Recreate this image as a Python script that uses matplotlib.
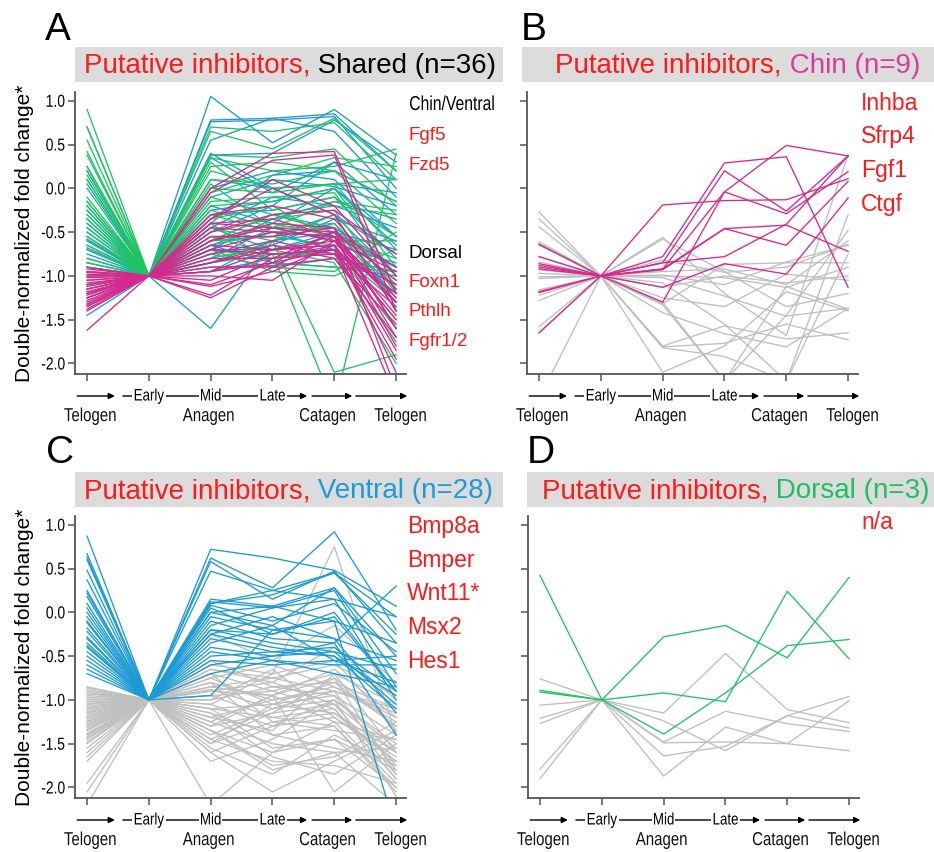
import matplotlib
matplotlib.use('Agg')
import matplotlib.pyplot as plt
import matplotlib.patches as patches
import matplotlib.transforms as mtransforms
import matplotlib.patheffects as patheffects

plt.rcParams['axes.unicode_minus'] = False

SANS = ['Liberation Sans', 'DejaVu Sans']

RED = '#ff1a1a'
PINK = '#d6288e'
BLUE = '#1c9ad6'
GREEN = '#1fc462'
GREY = '#bfbfbf'
TITLE_PINK = '#d63c9e'
TITLE_BLUE = '#1e9ad6'
TITLE_GREEN = '#1fbf5f'

# time points: Telogen, Early, Mid, Late, Catagen, Telogen
stage_x = [0, 1, 2, 3, 4, 5]
yticks = [1.0, 0.5, 0.0, -0.5, -1.0, -1.5, -2.0]
ytick_labels = ['1.0', '0.5', '0.0', '-0.5', '-1.0', '-1.5', '-2.0']

# ---- panel A: shared genes, one profile per region ----
A_ventral = [
    [-0.45, -1.0, 1.05, 0.52, 0.90, 0.38],
    [-0.30, -1.0, 0.78, 0.80, 0.85, 0.20],
    [-0.55, -1.0, 0.76, 0.78, 0.82, 0.00],
    [0.20, -1.0, 0.55, 0.80, 0.65, -0.10],
    [-0.60, -1.0, 0.38, 0.40, 0.78, 0.30],
    [-0.70, -1.0, 0.35, -0.05, 0.30, -0.30],
    [0.10, -1.0, 0.00, 0.20, 0.10, -0.55],
    [-0.80, -1.0, -0.10, 0.10, 0.02, -0.20],
    [-0.20, -1.0, -0.20, -0.40, 0.00, -0.65],
    [-0.90, -1.0, -0.30, -0.25, -0.10, -0.80],
    [-1.10, -1.0, -0.45, -0.10, -0.20, -0.45],
    [-0.50, -1.0, -0.55, -0.55, -0.30, -1.00],
    [-1.20, -1.0, -0.60, -0.30, -0.45, -0.90],
    [-0.35, -1.0, -0.70, -0.70, -0.50, -0.70],
    [-1.45, -1.0, -0.80, -0.45, -0.60, -1.20],
    [-0.65, -1.0, -0.85, -0.75, -0.75, -1.10],
    [-1.00, -1.0, -0.90, -0.88, -0.80, -0.95],
    [-0.75, -1.0, -1.60, -0.60, -0.40, -1.25],
    [0.25, -1.0, -0.50, -0.20, 0.30, 0.10],
    [-0.85, -1.0, -0.75, -0.65, -0.35, -0.60],
    [-1.25, -1.0, -0.40, 0.15, 0.20, -0.15],
    [-0.40, -1.0, -0.65, -0.50, -0.70, -1.30],
    [-0.95, -1.0, -0.70, -0.35, -0.15, -0.35],
    [-1.15, -1.0, -0.95, -0.80, -0.65, -0.85],
    [0.05, -1.0, 0.40, 0.00, 0.05, -0.05],
    [-0.25, -1.0, -0.25, -0.15, 0.00, -0.55],
    [-0.58, -1.0, -0.65, -0.85, -0.90, -1.00],
    [-1.35, -1.0, -0.85, -0.60, -0.50, -1.15],
    [-0.15, -1.0, 0.10, 0.00, -0.30, -0.75],
    [-0.68, -1.0, -0.45, -0.70, -0.55, -0.90],
]
A_dorsal = [
    [0.90, -1.0, 0.70, 0.65, 0.75, 0.10],
    [0.70, -1.0, 0.65, 0.45, 0.80, 0.20],
    [0.70, -1.0, 0.38, 0.35, 0.45, -0.20],
    [0.42, -1.0, 0.35, 0.20, 0.25, 0.45],
    [0.38, -1.0, 0.25, 0.30, 0.20, -0.40],
    [0.25, -1.0, 0.20, 0.00, 0.05, 0.10],
    [0.10, -1.0, 0.00, -0.05, 0.05, -0.70],
    [0.00, -1.0, -0.10, -0.30, -0.20, -0.30],
    [-0.10, -1.0, -0.20, -0.15, 0.00, -0.90],
    [-0.20, -1.0, -0.25, -0.45, -0.40, -1.10],
    [-0.30, -1.0, -0.35, -0.20, -0.60, -0.60],
    [-0.40, -1.0, -0.45, -0.60, -0.30, -1.40],
    [-0.50, -1.0, -0.55, -0.75, -2.50, 0.40],
    [-0.60, -1.0, -0.65, -0.40, -0.55, -0.80],
    [-0.70, -1.0, -0.70, -0.80, -0.70, -1.60],
    [-0.80, -1.0, -0.75, -0.90, -0.95, -0.50],
    [-0.90, -1.0, -0.85, -0.70, -0.85, -2.00],
    [-1.00, -1.0, -0.95, -0.60, -2.10, -1.90],
    [-1.10, -1.0, -0.50, -0.35, -0.25, -1.20],
    [0.55, -1.0, 0.10, 0.05, 0.20, -0.15],
    [-0.15, -1.0, -0.15, -0.10, -0.05, -1.00],
    [-0.65, -1.0, -0.30, -0.50, -0.45, -1.30],
    [0.20, -1.0, 0.30, -0.25, -0.10, -0.55],
    [-0.85, -1.0, -0.60, -0.55, -0.65, -1.50],
    [-0.45, -1.0, -0.40, -0.85, -0.90, -0.95],
    [-0.95, -1.0, -0.80, -0.65, -0.75, -1.75],
    [0.15, -1.0, -0.05, 0.15, 0.35, 0.25],
    [-0.25, -1.0, -0.70, -0.95, -1.00, -0.70],
    [-0.55, -1.0, 0.05, -0.45, -0.15, -0.25],
    [-0.35, -1.0, -0.60, -0.30, -0.50, -1.05],
]
A_chin = [
    [-0.95, -1.0, 0.00, 0.40, 0.42, -1.20],
    [-1.00, -1.0, -0.05, 0.32, 0.38, -1.40],
    [-1.05, -1.0, -0.35, 0.10, -0.20, -1.00],
    [-1.10, -1.0, -0.40, -0.45, -0.50, -1.60],
    [-1.15, -1.0, -0.45, -0.50, -0.55, -1.80],
    [-1.20, -1.0, -0.55, -0.55, -0.45, -2.30],
    [-1.25, -1.0, -0.60, -0.45, -0.60, -1.30],
    [-1.30, -1.0, -0.65, -0.70, -0.65, -1.50],
    [-1.35, -1.0, -0.70, -0.75, -0.70, -2.40],
    [-0.90, -1.0, -0.75, -0.60, -0.75, -1.10],
    [-0.98, -1.0, -0.80, -0.80, -0.50, -0.90],
    [-1.02, -1.0, -0.85, -0.65, -0.80, -1.70],
    [-1.08, -1.0, -0.90, -0.90, -0.55, -1.25],
    [-1.12, -1.0, -0.95, -0.85, -0.70, -1.95],
    [-1.18, -1.0, -1.00, -1.05, -0.60, -1.45],
    [-1.22, -1.0, -1.10, -0.85, -0.50, -1.05],
    [-1.28, -1.0, -1.12, -0.95, -0.65, -1.85],
    [-1.32, -1.0, -1.22, -0.80, -0.75, -1.35],
    [-1.38, -1.0, -1.25, -0.90, -0.80, -1.55],
    [-1.62, -1.0, -0.50, -0.30, -0.25, -0.75],
    [-1.40, -1.0, -0.30, -0.20, -0.35, -1.15],
    [-0.92, -1.0, -0.60, -0.40, -0.45, -1.60],
    [-1.05, -1.0, -0.70, -0.50, -0.55, -1.30],
    [-1.15, -1.0, -0.85, -0.70, -0.65, -2.10],
    [-1.25, -1.0, -0.40, -0.35, -0.55, -1.70],
    [-0.96, -1.0, -1.05, -0.75, -0.70, -1.20],
    [-1.20, -1.0, -0.35, 0.00, -0.30, -1.40],
    [-1.33, -1.0, -0.95, -0.70, -0.60, -0.95],
]

# ---- panel B: chin-specific genes (pink) and their other regions (grey) ----
B_chin = [
    [-0.86, -1.0, -0.19, -0.14, -0.13, 0.11],
    [-0.64, -1.0, -0.78, 0.29, 0.36, -1.13],
    [-0.88, -1.0, -0.85, 0.20, -0.26, 0.37],
    [-0.78, -1.0, -0.92, -0.04, 0.49, 0.37],
    [-0.90, -1.0, -0.92, -0.46, -0.42, -0.72],
    [-1.18, -1.0, -1.13, -0.86, -0.98, -0.11],
    [-1.65, -1.0, -1.30, -0.04, -0.29, 0.19],
    [-1.19, -1.0, -0.93, -0.46, -0.65, 0.08],
    [-0.92, -1.0, -0.85, -0.78, -0.41, 0.37],
]
B_other = [
    [-0.27, -1.0, -1.30, -2.20, -1.45, -0.48],
    [-0.35, -1.0, -1.42, -1.66, -1.81, -1.37],
    [-0.44, -1.0, -1.81, -1.77, -1.55, -1.73],
    [-0.61, -1.0, -0.58, -0.95, -1.35, -1.20],
    [-0.63, -1.0, -0.56, -1.20, -1.68, 0.38],
    [-0.65, -1.0, -0.82, -0.96, -0.90, -0.64],
    [-0.78, -1.0, -0.95, -0.92, -1.10, -0.60],
    [-0.84, -1.0, -1.00, -1.02, -1.13, -0.90],
    [-0.93, -1.0, -1.13, -1.00, -1.08, -1.00],
    [-0.97, -1.0, -0.99, -1.10, -0.84, -0.65],
    [-1.01, -1.0, -1.02, -1.23, -1.46, -1.37],
    [-1.03, -1.0, -1.08, -1.55, -2.20, -0.75],
    [-1.16, -1.0, -1.32, -0.87, -0.85, -0.85],
    [-1.22, -1.0, -1.25, -1.35, -0.98, -1.05],
    [-1.28, -1.0, -1.33, -2.20, -1.12, -1.38],
    [-1.58, -1.0, -1.80, -1.57, -1.72, -1.65],
    [-1.65, -1.0, -1.82, -1.92, -2.20, -0.30],
    [-2.40, -1.0, -2.10, -1.80, -1.18, -1.40],
]

# ---- panel C: ventral-specific genes (blue) and their other regions (grey) ----
C_ventral = [
    [0.87, -1.0, 0.72, 0.62, 0.48, 0.07],
    [0.67, -1.0, 0.62, 0.28, 0.92, -0.20],
    [0.63, -1.0, 0.58, 0.15, 0.47, -0.35],
    [0.60, -1.0, 0.47, 0.25, 0.45, -0.05],
    [0.37, -1.0, 0.15, 0.07, 0.28, -0.50],
    [0.22, -1.0, 0.12, 0.05, 0.25, -0.85],
    [0.18, -1.0, 0.10, 0.25, 0.15, -0.05],
    [0.10, -1.0, 0.08, -0.10, 0.10, -0.45],
    [0.05, -1.0, 0.05, -0.25, 0.00, -0.90],
    [0.00, -1.0, 0.00, 0.07, -0.10, -2.50],
    [-0.05, -1.0, -0.05, -0.20, -0.30, -0.55],
    [-0.10, -1.0, -0.10, -0.30, -0.35, 0.30],
    [-0.18, -1.0, -0.15, 0.05, 0.15, -1.00],
    [-0.22, -1.0, -0.20, -0.35, -0.45, -0.65],
    [-0.28, -1.0, -0.25, -0.40, -0.50, -1.10],
    [-0.30, -1.0, -0.30, -0.45, -0.40, -0.90],
    [-0.35, -1.0, -0.35, -0.15, -0.55, -0.50],
    [-0.40, -1.0, -0.40, -0.50, -0.35, -1.40],
    [-0.45, -1.0, -0.45, -0.55, -0.60, -0.60],
    [-0.50, -1.0, -0.50, -0.45, -0.50, -0.95],
    [-0.55, -1.0, -0.55, -0.60, -0.55, -0.80],
    [-0.60, -1.0, -0.60, -0.50, -0.45, -1.05],
    [-0.65, -1.0, -0.70, -0.55, -0.70, -0.85],
    [-0.70, -1.0, -0.95, -0.20, -0.10, -0.35],
    [0.48, -1.0, 0.10, 0.20, 0.45, -0.25],
    [-0.12, -1.0, 0.00, -0.15, 0.28, -0.70],
    [-0.38, -1.0, -0.20, -0.25, -0.05, -0.90],
    [0.25, -1.0, -0.25, -0.05, -0.30, -1.15],
]
C_other = [
    [-0.85, -1.0, -0.25, -0.55, -0.15, -0.80],
    [-0.88, -1.0, -0.60, -0.70, 0.75, -1.40],
    [-0.90, -1.0, -0.65, -0.80, -0.40, -1.00],
    [-0.92, -1.0, -0.70, -0.90, -0.70, -1.60],
    [-0.95, -1.0, -0.75, -0.60, -0.85, -1.20],
    [-0.97, -1.0, -0.80, -1.00, -0.90, -1.80],
    [-1.00, -1.0, -0.85, -0.75, -0.60, -0.95],
    [-1.02, -1.0, -0.88, -1.10, -1.00, -1.50],
    [-1.05, -1.0, -0.90, -0.95, -0.75, -1.30],
    [-1.07, -1.0, -0.95, -1.20, -1.10, -1.90],
    [-1.10, -1.0, -1.00, -0.85, -0.80, -1.10],
    [-1.12, -1.0, -1.05, -1.30, -1.20, -1.70],
    [-1.15, -1.0, -1.10, -1.05, -0.95, -1.40],
    [-1.17, -1.0, -1.15, -1.40, -1.30, -2.00],
    [-1.20, -1.0, -1.20, -1.00, -0.85, -1.25],
    [-1.22, -1.0, -1.25, -1.50, -1.60, -1.55],
    [-1.25, -1.0, -1.30, -1.15, -1.05, -1.85],
    [-1.27, -1.0, -1.35, -1.60, -1.25, -1.45],
    [-1.30, -1.0, -1.40, -1.10, -0.90, -1.15],
    [-1.32, -1.0, -1.45, -1.70, -1.75, -1.95],
    [-1.35, -1.0, -1.50, -1.25, -1.15, -1.60],
    [-1.38, -1.0, -1.55, -1.85, -1.40, -1.75],
    [-1.40, -1.0, -1.60, -2.05, -1.70, -1.35],
    [-1.42, -1.0, -1.30, -0.95, -2.05, -1.50],
    [-1.45, -1.0, -1.70, -1.45, -1.00, -2.10],
    [-1.48, -1.0, -1.20, -1.35, -0.70, -1.05],
    [-1.55, -1.0, -2.20, -1.60, -1.45, -1.80],
    [-1.65, -1.0, -1.00, -0.65, -1.20, -1.65],
    [-1.70, -1.0, -1.35, -1.75, -1.65, -1.25],
    [-1.95, -1.0, -0.95, -0.90, -1.10, -1.90],
    [-2.05, -1.0, -1.10, -1.20, -1.30, -2.05],
    [-2.20, -1.0, -0.80, -1.40, -1.55, -1.70],
    [-0.86, -1.0, -1.05, -0.70, -0.55, -1.35],
    [-0.93, -1.0, -0.55, -0.85, -0.95, -1.75],
    [-0.99, -1.0, -1.25, -0.95, -0.65, -1.20],
    [-1.04, -1.0, -0.70, -1.25, -1.35, -1.45],
    [-1.09, -1.0, -1.45, -1.15, -0.75, -1.85],
    [-1.14, -1.0, -0.90, -0.80, -1.05, -1.60],
    [-1.19, -1.0, -1.10, -1.55, -1.45, -2.00],
    [-1.24, -1.0, -0.75, -1.05, -0.80, -1.30],
    [-1.29, -1.0, -1.60, -1.30, -1.00, -1.55],
    [-1.34, -1.0, -0.85, -0.95, -1.25, -1.95],
    [-1.39, -1.0, -1.15, -1.65, -1.85, -1.40],
    [-1.44, -1.0, -0.65, -0.75, -0.90, -1.10],
    [-1.50, -1.0, -1.35, -1.80, -1.60, -2.20],
    [-1.60, -1.0, -1.50, -1.05, -1.15, -1.70],
]

# ---- panel D: dorsal-specific genes (green) and their other regions (grey) ----
D_dorsal = [
    [0.42, -1.0, -0.28, -0.15, -0.52, 0.40],
    [-0.89, -1.0, -0.92, -1.02, 0.24, -0.53],
    [-0.91, -1.0, -1.39, -0.92, -0.38, -0.31],
]
D_other = [
    [-0.76, -1.0, -1.15, -0.47, -1.11, -1.26],
    [-1.06, -1.0, -1.24, -1.58, -1.18, -1.32],
    [-1.21, -1.0, -1.48, -1.13, -1.27, -1.36],
    [-1.27, -1.0, -1.49, -1.48, -1.50, -1.58],
    [-1.79, -1.0, -1.64, -1.53, -1.18, -0.96],
    [-1.90, -1.0, -1.87, -1.31, -1.50, -1.01],
]

A_genes_top = ['Fgf5', 'Fzd5']
A_genes_bottom = ['Foxn1', 'Pthlh', 'Fgfr1/2']
B_genes = ['Inhba', 'Sfrp4', 'Fgf1', 'Ctgf']
C_genes = ['Bmp8a', 'Bmper', 'Wnt11*', 'Msx2', 'Hes1']


class Narrow(patheffects.AbstractPathEffect):
    """Squeeze glyphs horizontally, to imitate a condensed face."""

    def __init__(self, sx=0.82, anchor='center'):
        super().__init__()
        self.sx = sx
        self.anchor = anchor

    def draw_path(self, renderer, gc, tpath, affine, rgbFace=None):
        ext = tpath.get_extents()
        cx = {'left': ext.x0, 'center': 0.5 * (ext.x0 + ext.x1), 'right': ext.x1}[self.anchor]
        squeeze = mtransforms.Affine2D().translate(-cx, 0).scale(self.sx, 1).translate(cx, 0)
        renderer.draw_path(gc, tpath, squeeze + affine, rgbFace)


W, H = 934, 852
fig = plt.figure(figsize=(W / 100, H / 100), dpi=100)


def fx(x):
    return x / W


def fy(y):
    return 1 - y / H


def make_axes(left, top):
    return fig.add_axes([fx(left), fy(top + 282), 331 / W, 282 / H])


def style_axes(ax, show_labels):
    ax.set_xlim(-0.195, 5.16)
    ax.set_ylim(-2.12, 1.10)
    for s in ['top', 'right']:
        ax.spines[s].set_visible(False)
    for s in ['left', 'bottom']:
        ax.spines[s].set_color('#555555')
        ax.spines[s].set_linewidth(1.3)
    ax.set_xticks(stage_x)
    ax.set_xticklabels([])
    ax.set_yticks(yticks)
    if show_labels:
        ax.set_yticklabels(ytick_labels, family=SANS, fontsize=12.5,
                           path_effects=[Narrow(0.8, 'right')])
        ax.set_ylabel('Double-normalized fold change*', family=SANS, fontsize=15)
        ax.yaxis.set_label_coords(-0.125, 0.5)
    else:
        ax.set_yticklabels([])
    ax.tick_params(direction='out', length=5, width=1.1, color='#555555', pad=2)

    # stage arrows under the x axis
    tr = mtransforms.blended_transform_factory(ax.transData, ax.transAxes)
    ya = -0.078
    for x0, x1 in [(-0.16, 0.45), (0.58, 3.56), (3.64, 4.29), (4.35, 5.18)]:
        ax.annotate('', xy=(x1, ya), xytext=(x0, ya), xycoords=tr, textcoords=tr,
                    arrowprops=dict(arrowstyle='-|>', color='black', lw=1.0,
                                    mutation_scale=9, shrinkA=0, shrinkB=0),
                    annotation_clip=False)
    for x, lab in [(1, 'Early'), (2, 'Mid'), (3, 'Late')]:
        ax.text(x, ya, lab, transform=tr, ha='center', va='center', family=SANS,
                fontsize=12, zorder=5, path_effects=[Narrow(0.8, 'center')],
                bbox=dict(facecolor='white', edgecolor='none', pad=-1.5))
    for x, lab in [(0.05, 'Telogen'), (1.97, 'Anagen'), (3.89, 'Catagen'), (5.07, 'Telogen')]:
        ax.text(x, -0.167, lab, transform=tr, ha='center', va='baseline',
                family=SANS, fontsize=13.5, color='#111111',
                path_effects=[Narrow(0.8, 'center')])


def draw_lines(ax, rows, colour):
    for row in rows:
        ax.plot(stage_x, row, color=colour, lw=0.95)


def title_box(ax, left, top, right, x_text, parts):
    fig.patches.append(patches.Rectangle((fx(left), fy(top + 35)), (right - left) / W, 35 / H,
                                         transform=fig.transFigure, facecolor='#dcdcdc',
                                         edgecolor='none', zorder=-1))
    first, colour = parts[0]
    t = fig.text(fx(x_text), fy(top + 26), first, color=colour, fontsize=20, family=SANS)
    for txt, colour in parts[1:]:
        t = ax.annotate(txt, xy=(1, 0), xycoords=t, va='bottom', ha='left',
                        color=colour, fontsize=20, family=SANS, annotation_clip=False)


# panel A
axA = make_axes(75, 92)
style_axes(axA, True)
draw_lines(axA, A_ventral, BLUE)
draw_lines(axA, A_dorsal, GREEN)
draw_lines(axA, A_chin, PINK)
title_box(axA, 75, 47, 503, 84, [('Putative inhibitors,', RED), (' Shared (n=36)', 'black')])
fig.text(fx(409), fy(110), 'Chin/Ventral', family=SANS, fontsize=14.5, color='black',
         path_effects=[Narrow(0.78, 'left')])
for i, g in enumerate(A_genes_top):
    fig.text(fx(409), fy(140 + 29.5 * i), g, family=SANS, fontsize=13.5, color=RED)
fig.text(fx(409), fy(258), 'Dorsal', family=SANS, fontsize=13.5, color='black')
for i, g in enumerate(A_genes_bottom):
    fig.text(fx(409), fy(287 + 29.5 * i), g, family=SANS, fontsize=13.5, color=RED)

# panel B
axB = make_axes(527, 92)
style_axes(axB, False)
draw_lines(axB, B_other, GREY)
draw_lines(axB, B_chin, PINK)
title_box(axB, 522, 47, 934, 555, [('Putative inhibitors,', RED), (' Chin (n=9)', TITLE_PINK)])
for i, g in enumerate(B_genes):
    fig.text(fx(861), fy(110 + 33.5 * i), g, family=SANS, fontsize=16.5, color=RED)

# panel C
axC = make_axes(75, 516)
style_axes(axC, True)
draw_lines(axC, C_other, GREY)
draw_lines(axC, C_ventral, BLUE)
title_box(axC, 75, 472, 503, 84, [('Putative inhibitors,', RED), (' Ventral (n=28)', TITLE_BLUE)])
for i, g in enumerate(C_genes):
    fig.text(fx(407), fy(533 + 33.7 * i), g, family=SANS, fontsize=16.5, color=RED)

# panel D
axD = make_axes(528, 516)
style_axes(axD, False)
draw_lines(axD, D_other, GREY)
draw_lines(axD, D_dorsal, GREEN)
title_box(axD, 527, 472, 934, 542, [('Putative inhibitors,', RED), (' Dorsal (n=3)', TITLE_GREEN)])
fig.text(fx(861), fy(529), 'n/a', family=SANS, fontsize=16.5, color=RED)

# panel letters
for lab, x, y in [('A', 45, 40), ('B', 521, 40), ('C', 46, 463), ('D', 527, 463)]:
    fig.text(fx(x), fy(y), lab, family=SANS, fontsize=28, color='black')

fig.savefig('out.png', dpi=100)
